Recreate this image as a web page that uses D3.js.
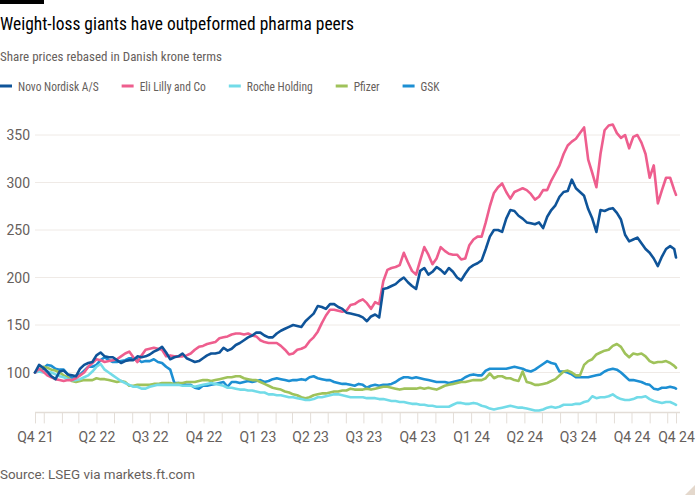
<!DOCTYPE html>
<html><head><meta charset="utf-8">
<script src="https://cdn.jsdelivr.net/npm/d3@7"></script>
<style>
body{margin:0;background:#fff}
svg text{font-family:'Liberation Sans Narrow','Roboto Condensed',Roboto,sans-serif}
svg text.num{font-family:Roboto,'Open Sans',sans-serif}
</style>
</head><body><svg id="c" width="700" height="500"></svg>
<script>
// ---- data ----
const seriesNames = ["Novo Nordisk A/S","Eli Lilly and Co","Roche Holding","Pfizer","GSK"];
const seriesColors = ["#0f5499","#ee5e8e","#72dbe8","#9fc25a","#1d8fd3"];
const startDate = new Date(2021,11,17);
const endDate = new Date(2024,11,16);
// weekly observations from startDate, final point at endDate
const novo = [100,108,105,101,96,93,101,102,98,97,
96,104,108,110,111,118,121,117,116,116,
113,110,112,113,113,117,116,117,119,122,
124,127,121,114,116,117,120,115,113,111,
112,115,118,120,120,121,126,123,125,129,
131,134,137,139,142,142,139,137,137,141,
144,146,148,150,149,148,154,158,162,170,
169,167,172,172,169,167,163,162,161,160,
158,154,159,161,158,188,189,191,193,197,
200,195,191,188,207,210,203,206,211,208,
204,210,206,200,197,204,210,213,215,218,
230,243,250,250,248,262,271,270,265,262,
258,257,256,258,252,264,271,276,285,290,
291,303,294,290,286,272,262,248,271,270,
272,273,268,261,245,238,240,242,236,230,
226,220,212,222,230,233,230,221];
const lilly = [100,104,101,97,95,93,92,91,92,92,
94,97,100,106,110,114,113,111,112,113,
114,117,120,122,116,111,118,124,125,126,
125,124,117,118,117,117,117,118,120,124,
127,128,130,131,132,136,137,138,140,141,
141,140,141,139,138,134,132,131,131,131,
128,124,119,120,124,125,127,133,137,143,
152,160,166,166,165,164,165,171,172,175,
177,173,167,174,172,196,208,210,211,213,
226,216,207,203,218,232,224,214,220,232,
228,225,224,224,219,220,234,240,243,243,
258,275,289,295,299,290,283,290,292,294,
292,288,282,285,292,292,302,310,318,330,
339,343,346,352,358,324,310,295,330,355,
360,361,352,347,350,336,348,350,342,330,
305,318,278,292,305,305,292,287];
const roche = [100,101,100,101,100,98,96,95,93,92,
92,93,95,97,101,106,109,103,100,97,
94,91,89,87,85,85,83,83,85,86,
87,87,87,87,87,87,86,86,86,85,
86,87,88,89,88,87,86,84,84,83,
82,82,81,81,80,79,79,77,77,76,
76,75,74,74,73,72,71,71,72,74,
74,75,76,77,77,76,75,74,74,74,
74,73,73,73,72,72,71,70,70,69,
69,68,67,67,66,66,65,65,64,64,
64,64,66,68,68,67,67,68,67,65,
64,62,61,62,63,64,65,64,63,63,
62,61,60,60,61,63,64,63,64,66,
66,66,67,67,69,70,75,73,74,74,
75,77,74,72,71,71,72,74,74,75,
72,70,69,68,69,69,67,66];
const pfizer = [100,103,106,105,103,102,100,97,95,91,
90,91,92,92,92,94,93,93,92,91,
90,91,90,86,86,87,87,87,87,88,
88,89,89,89,88,89,89,90,90,90,
91,92,92,91,92,93,94,95,95,96,
96,94,93,92,92,90,88,86,84,83,
82,80,79,77,76,74,73,74,76,77,
78,78,79,80,80,81,81,83,82,82,
82,83,82,83,84,85,85,84,83,82,
83,83,83,83,84,83,84,83,82,84,
86,87,88,89,90,90,91,92,92,92,
94,99,94,96,96,94,94,92,91,101,
90,89,87,87,88,89,91,93,97,101,
102,100,97,97,108,112,114,119,121,123,
124,128,130,127,120,116,120,119,120,117,
112,110,111,111,112,110,107,105];
const gsk = [100,103,104,108,107,104,103,103,98,94,
96,98,102,106,106,108,113,116,113,111,
111,112,113,115,115,114,111,112,112,114,
111,110,106,103,89,89,88,87,87,84,
83,86,86,87,88,89,90,85,90,90,
89,90,91,90,91,92,90,91,93,94,
93,92,91,92,92,93,92,95,96,94,
93,92,92,90,89,88,88,87,86,88,
87,84,86,87,86,87,87,88,90,93,
95,95,94,95,94,93,92,91,90,90,
90,89,90,91,92,95,97,98,97,97,
102,104,104,104,104,104,105,106,105,104,
102,101,103,106,109,112,110,109,101,101,
100,98,95,95,95,95,96,97,98,101,
103,104,103,100,96,92,92,91,90,88,
87,83,82,84,84,85,84,83];
const yTicks = [100,150,200,250,300,350];
const xLabelDates = ["2021-12-17","2022-04-01","2022-07-01","2022-10-01","2023-01-01","2023-04-01","2023-07-01","2023-10-01","2024-01-01","2024-04-01","2024-07-01","2024-10-01","2024-12-16"];
const xLabels = ["Q4 21","Q2 22","Q3 22","Q4 22","Q1 23","Q2 23","Q3 23","Q4 23","Q1 24","Q2 24","Q3 24","Q4 24","Q4 24"];

// ---- build ----
const nWeeks = novo.length - 1;
const dates = d3.range(nWeeks).map(i => d3.timeDay.offset(startDate, 7*i)).concat([endDate]);
const allSeries = [novo, lilly, roche, pfizer, gsk];

const svg = d3.select("#c");
const x = d3.scaleTime().domain([startDate, endDate]).range([35, 676]);
const y = d3.scaleLinear().domain([58, 370]).range([412.4, 116]);
const gridX0 = 35, gridX1 = 680;

function fitTo(sel, target){
  const w = sel.node().getComputedTextLength();
  sel.attr("textLength", target).attr("lengthAdjust","spacingAndGlyphs");
  return target;
}

// top bar
svg.append("rect").attr("x",0).attr("y",0).attr("width",44).attr("height",4).attr("fill","#000");

const title = svg.append("text").attr("x",0).attr("y",30).attr("font-size",17.5).attr("fill","#000")
  .text("Weight-loss giants have outpeformed pharma peers");
fitTo(title, 354);
const sub = svg.append("text").attr("x",0).attr("y",61).attr("font-size",13.5).attr("fill","#66605c")
  .text("Share prices rebased in Danish krone terms");
fitTo(sub, 222);

// legend
let lx = 0;
const leg = svg.append("g");
seriesNames.forEach((n,i) => {
  leg.append("rect").attr("x",lx).attr("y",84.5).attr("width",12).attr("height",3).attr("fill",seriesColors[i]);
  const t = leg.append("text").attr("x",lx+18).attr("y",91).attr("font-size",12.5).attr("fill","#66605c").text(n);
  const w = t.node().getComputedTextLength()*0.92;
  t.attr("textLength", w).attr("lengthAdjust","spacingAndGlyphs");
  lx = lx + 18 + w + 23;
});

// grid + y labels
const yg = svg.append("g");
yg.selectAll("line").data(yTicks).join("line")
  .attr("x1",gridX0).attr("x2",gridX1).attr("y1",d=>y(d)).attr("y2",d=>y(d))
  .attr("stroke","#efeae6").attr("stroke-width",1);
yg.selectAll("text").data(yTicks).join("text").attr("class","num")
  .attr("x",30).attr("y",d=>y(d)+5).attr("text-anchor","end")
  .attr("font-size",14).attr("fill","#66605c").text(d=>d);

// x axis
const tickDates = [startDate].concat(d3.timeMonth.range(new Date(2022,0,1), new Date(2024,11,2))).concat([endDate]);
const labelMap = new Map(xLabelDates.map((d,i)=>[d, xLabels[i]]));
const fmt = d3.timeFormat("%Y-%m-%d");
const xa = svg.append("g").attr("transform","translate(0,412.4)")
  .call(d3.axisBottom(x).tickValues(tickDates).tickSize(11).tickPadding(9)
    .tickFormat(d => labelMap.get(fmt(d)) || ""));
xa.select(".domain").remove();
xa.selectAll(".tick line").attr("stroke","#e3ddd7");
xa.selectAll(".tick text").attr("class","num").attr("font-size",14).attr("fill","#66605c").attr("font-family",null);
svg.append("line").attr("x1",gridX0).attr("x2",gridX1).attr("y1",412.4).attr("y2",412.4)
  .attr("stroke","#e3ddd7").attr("stroke-width",1.5);

// lines
const line = d3.line().x((d,i)=>x(dates[i])).y(d=>y(d));
[4,3,2,1,0].forEach(k => {
  svg.append("path").datum(allSeries[k]).attr("d",line)
    .attr("fill","none").attr("stroke",seriesColors[k]).attr("stroke-width",2.6)
    .attr("stroke-linejoin","round").attr("stroke-linecap","round");
});

// source
const src = svg.append("text").attr("class","num").attr("x",0).attr("y",479).attr("font-size",12.5).attr("fill","#66605c")
  .text("Source: LSEG via markets.ft.com");
fitTo(src, 195);

// corner
svg.append("path").attr("d","M685,495L695,485L695,495Z").attr("fill","#e4d8cc");
</script></body></html>
